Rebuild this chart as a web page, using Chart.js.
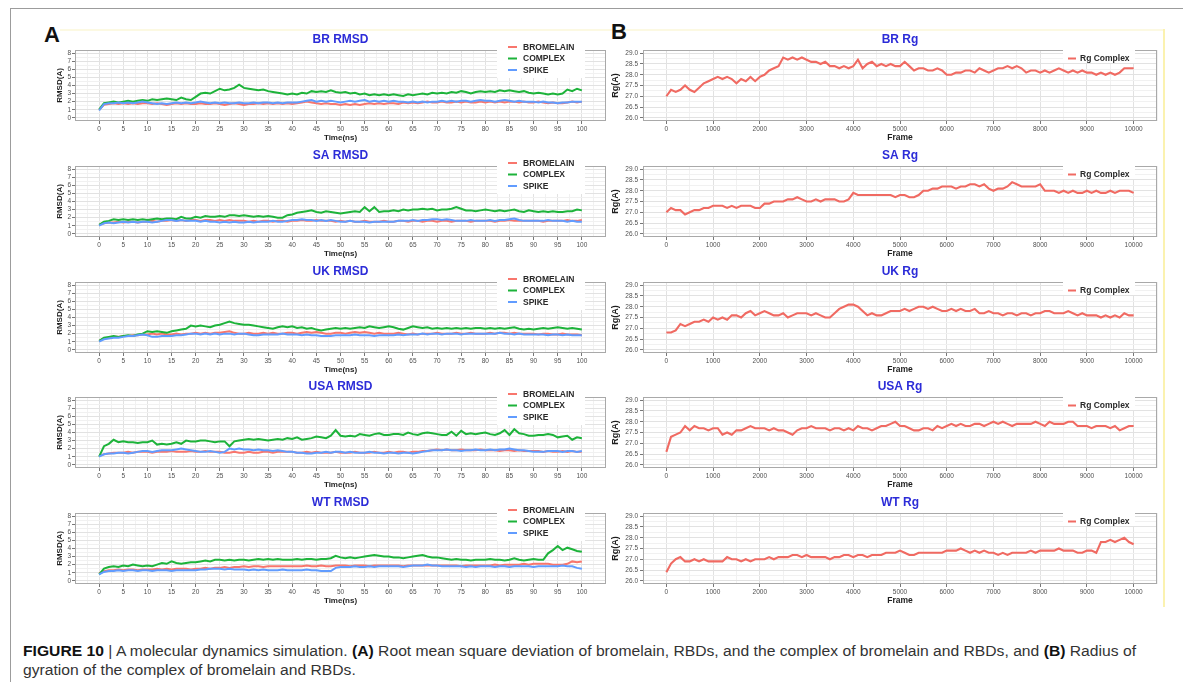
<!DOCTYPE html>
<html><head><meta charset="utf-8">
<script src="https://cdn.jsdelivr.net/npm/chart.js@4.4.1/dist/chart.umd.min.js"></script>
<style>
html,body{margin:0;padding:0;background:#fff;width:1183px;height:682px;overflow:hidden;position:relative;}
canvas.c{position:absolute;}
.ln{position:absolute;}
.lbl{position:absolute;font:bold 22px "Liberation Sans",Arial,sans-serif;color:#111;line-height:22px;}
#cap{position:absolute;left:23px;top:642px;font:14px "Liberation Sans Narrow","Liberation Sans",Arial,sans-serif;color:#333;white-space:nowrap;transform-origin:0 0;line-height:19px;}
#cap b{color:#111;}
</style></head><body>
<div class="ln" style="left:10px;top:8px;width:1173px;height:1px;background:#9c9c9c"></div>
<div class="ln" style="left:10px;top:8px;width:1px;height:674px;background:#9c9c9c"></div>
<div class="ln" style="left:60px;top:29px;width:1103px;height:2px;background:#fcf9e2"></div>
<div class="ln" style="left:1163px;top:29px;width:2px;height:578px;background:#fbf2b0"></div>
<div class="lbl" style="left:44px;top:24px">A</div>
<div class="lbl" style="left:611px;top:21px">B</div>
<div id="cap"><span id="cap1"><b>FIGURE 10</b> | A molecular dynamics simulation. <b>(A)</b> Root mean square deviation of bromelain, RBDs, and the complex of bromelain and RBDs, and <b>(B)</b> Radius of</span><br><span>gyration of the complex of bromelain and RBDs.</span></div>
<script>
// ---------------- DATA ----------------
const variants = ['BR','SA','UK','USA','WT'];
const seriesNames = ['BROMELAIN','COMPLEX','SPIKE'];
const rgName = 'Rg Complex';
const nsTicks = [0,5,10,15,20,25,30,35,40,45,50,55,60,65,70,75,80,85,90,95,100];
const frameTicks = [0,1000,2000,3000,4000,5000,6000,7000,8000,9000,10000];
const rmsdTicks = [0,1,2,3,4,5,6,7,8];
const rgTicks = [26.0,26.5,27.0,27.5,28.0,28.5,29.0];
// sample positions: every 1 ns / every 100 frames
const timeNs = Array.from({length:101},(_,i)=>i);
const frames = Array.from({length:101},(_,i)=>i*100);

const brComplex = [1.0,
1.8,1.9,2.0,1.9,2.0,2.1,2.0,2.1,2.2,2.1,
2.3,2.2,2.3,2.4,2.3,2.2,2.5,2.3,2.2,2.6,
3.0,3.1,3.0,3.3,3.6,3.4,3.5,3.7,4.1,3.7,
3.6,3.5,3.4,3.5,3.3,3.2,3.1,3.0,2.9,3.0,
2.9,3.1,3.0,3.3,3.2,3.3,3.2,3.4,3.2,3.1,
3.2,3.0,3.1,2.9,3.0,2.8,2.9,2.8,2.9,2.8,
2.9,2.8,2.7,2.9,2.8,2.9,3.0,2.9,3.1,3.0,
3.1,3.0,3.2,3.1,3.3,3.2,3.0,3.2,3.3,3.2,
3.3,3.2,3.4,3.3,3.4,3.3,3.2,3.3,3.1,3.0,
3.1,3.0,2.9,3.0,2.9,3.0,3.5,3.3,3.6,3.4];
const brBromelain = [1.0,
1.6,1.7,1.8,1.7,1.8,1.7,1.8,1.7,1.8,1.8,
1.7,1.8,1.7,1.6,1.7,1.8,1.7,1.8,1.7,1.7,
1.8,1.7,1.7,1.8,1.7,1.6,1.7,1.8,1.7,1.6,
1.7,1.7,1.8,1.7,1.8,1.7,1.8,1.7,1.8,1.7,
1.8,1.9,2.0,1.9,1.8,1.7,1.8,1.7,1.7,1.6,
1.7,1.6,1.7,1.6,1.7,1.8,1.7,1.8,1.7,1.8,
1.8,1.7,1.9,1.8,1.9,1.8,1.9,2.0,1.9,1.9,
2.0,1.9,1.9,2.0,1.9,2.0,1.9,1.9,2.0,1.9,
2.0,1.9,2.0,1.9,2.0,2.0,1.9,2.0,1.9,1.9,
2.0,1.9,1.8,1.9,1.8,1.8,1.9,2.0,1.9,2.0];
const brSpike = [0.9,
1.7,1.8,1.8,1.9,1.8,1.9,1.8,1.9,2.0,1.9,
1.8,1.7,1.8,1.7,1.8,1.9,1.8,1.9,1.8,1.9,
2.0,1.9,1.8,1.9,1.8,1.9,1.8,1.8,1.9,1.8,
1.8,1.9,1.8,1.9,1.9,1.8,1.9,1.8,1.9,1.9,
1.9,2.0,2.1,2.2,2.0,2.1,2.0,2.1,2.0,1.9,
2.0,2.1,2.0,2.1,2.2,2.0,2.1,2.0,2.1,2.0,
2.1,2.0,2.0,1.9,2.0,1.9,2.0,1.9,2.0,2.0,
2.1,2.0,2.1,2.0,2.1,2.1,2.0,2.1,2.2,2.1,
2.1,2.0,2.1,2.2,2.1,2.0,2.1,2.0,2.0,2.0,
1.9,2.0,1.9,1.9,1.8,1.9,1.9,2.0,2.0,2.0];

const saComplex = [1.1,
1.5,1.6,1.8,1.7,1.8,1.7,1.8,1.7,1.8,1.7,
1.8,1.9,1.8,1.9,1.9,1.8,2.1,1.9,1.9,2.1,
2.0,2.2,2.1,2.1,2.2,2.1,2.3,2.3,2.2,2.3,
2.2,2.1,2.2,2.1,2.2,2.1,2.0,2.0,2.3,2.4,
2.6,2.7,2.8,2.9,2.7,2.6,2.8,2.7,2.6,2.5,
2.6,2.7,2.8,2.7,3.3,2.8,3.3,2.7,2.8,2.8,
2.9,2.8,3.0,2.9,3.0,3.0,3.1,3.0,3.1,2.9,
3.0,3.0,3.1,3.3,3.1,2.9,2.9,2.8,2.9,3.0,
2.9,2.8,2.9,2.8,2.9,3.0,2.8,2.7,2.9,2.8,
2.7,2.8,2.7,2.8,2.7,2.7,2.8,2.8,3.0,2.9];
const saBromelain = [1.1,
1.3,1.4,1.4,1.5,1.4,1.5,1.5,1.4,1.5,1.5,
1.6,1.5,1.6,1.6,1.7,1.6,1.7,1.6,1.7,1.7,
1.6,1.7,1.7,1.6,1.7,1.6,1.7,1.6,1.6,1.6,
1.5,1.6,1.5,1.6,1.6,1.5,1.6,1.6,1.5,1.6,
1.6,1.7,1.6,1.6,1.7,1.6,1.6,1.6,1.5,1.6,
1.5,1.6,1.5,1.5,1.6,1.5,1.5,1.5,1.6,1.5,
1.5,1.6,1.6,1.5,1.6,1.6,1.5,1.6,1.6,1.5,
1.6,1.6,1.5,1.6,1.6,1.6,1.5,1.6,1.6,1.6,
1.6,1.5,1.6,1.6,1.7,1.6,1.6,1.6,1.6,1.6,
1.6,1.5,1.6,1.6,1.6,1.6,1.7,1.6,1.6,1.7];
const saSpike = [1.0,
1.3,1.4,1.3,1.4,1.5,1.4,1.5,1.4,1.5,1.5,
1.4,1.5,1.6,1.7,1.7,1.6,1.7,1.6,1.6,1.6,
1.5,1.6,1.5,1.5,1.4,1.5,1.4,1.5,1.4,1.4,
1.5,1.4,1.5,1.5,1.5,1.6,1.5,1.5,1.6,1.7,
1.7,1.8,1.7,1.7,1.6,1.7,1.6,1.7,1.6,1.5,
1.5,1.6,1.5,1.5,1.5,1.4,1.5,1.5,1.5,1.5,
1.5,1.6,1.6,1.6,1.7,1.6,1.7,1.7,1.8,1.8,
1.7,1.8,1.7,1.6,1.6,1.6,1.7,1.6,1.6,1.6,
1.7,1.6,1.7,1.7,1.8,1.9,1.7,1.6,1.6,1.6,
1.6,1.6,1.7,1.6,1.6,1.6,1.5,1.6,1.5,1.5];

const ukComplex = [1.1,
1.5,1.6,1.7,1.6,1.7,1.8,1.7,1.9,2.0,2.3,
2.2,2.3,2.2,2.1,2.3,2.4,2.5,2.6,3.0,2.9,
3.0,2.9,2.8,3.0,3.1,3.3,3.5,3.3,3.2,3.1,
3.1,3.0,2.9,2.8,2.7,2.6,2.8,2.9,2.8,2.9,
2.7,2.8,2.6,2.7,2.5,2.4,2.5,2.6,2.7,2.6,
2.7,2.6,2.7,2.8,2.7,2.9,2.8,2.7,2.8,2.9,
2.8,2.6,2.5,2.7,2.9,2.8,2.7,2.8,2.6,2.7,
2.6,2.7,2.6,2.7,2.6,2.7,2.6,2.7,2.7,2.6,
2.7,2.6,2.7,2.6,2.7,2.8,2.6,2.5,2.6,2.5,
2.6,2.7,2.6,2.7,2.8,2.7,2.6,2.7,2.6,2.5];
const ukBromelain = [1.1,
1.4,1.5,1.6,1.6,1.7,1.7,1.8,1.8,1.9,1.9,
2.0,1.9,2.0,1.9,1.9,2.0,1.9,2.0,2.0,2.1,
2.0,2.1,2.0,2.1,2.1,2.2,2.3,2.1,2.0,2.0,
2.1,2.0,2.0,2.1,2.0,2.1,2.0,2.0,2.1,2.1,
2.0,2.1,2.2,2.1,2.2,2.1,2.0,2.0,2.1,2.1,
2.0,2.1,2.2,2.1,2.2,2.1,2.0,2.1,2.0,2.0,
2.0,2.1,2.0,1.9,2.0,1.9,2.0,2.0,2.0,2.1,
2.0,2.0,2.0,2.1,2.0,2.0,2.1,2.0,2.0,2.0,
2.1,2.0,2.1,2.1,2.0,2.1,2.0,2.0,2.0,2.0,
1.9,2.0,2.0,1.9,1.9,2.0,1.9,1.9,1.9,1.8];
const ukSpike = [1.0,
1.3,1.4,1.5,1.5,1.6,1.7,1.7,1.8,1.9,1.8,
1.6,1.6,1.7,1.7,1.7,1.8,1.8,1.9,2.0,2.0,
1.9,2.0,1.9,2.0,1.9,2.0,2.0,1.9,2.0,2.0,
1.9,1.8,1.8,1.9,1.9,1.9,1.9,2.0,1.9,1.9,
1.9,1.8,1.9,1.8,1.8,1.7,1.7,1.7,1.8,1.8,
1.8,1.8,1.9,1.8,1.8,1.8,1.7,1.8,1.8,1.8,
1.8,1.9,1.8,1.9,1.9,1.9,2.0,1.9,2.0,2.0,
1.9,2.0,2.0,2.0,1.9,2.0,2.0,2.0,2.0,2.0,
2.0,2.0,2.1,2.0,2.0,1.9,2.0,1.9,1.9,1.9,
1.9,1.9,1.8,1.9,1.9,1.8,1.9,1.8,1.8,1.8];

const usaComplex = [1.0,
2.3,2.6,3.1,2.8,2.9,2.8,2.8,2.7,2.8,2.8,
3.0,2.5,2.6,2.5,2.6,2.8,2.6,3.0,2.9,2.9,
3.0,3.0,2.9,2.8,2.9,2.9,2.3,2.9,3.0,3.1,
3.2,3.1,3.2,3.1,3.0,3.1,3.2,3.1,3.3,3.2,
3.4,3.1,3.2,3.3,3.5,3.4,3.3,3.6,4.3,3.6,
3.5,3.6,3.5,3.8,3.7,3.6,3.8,3.9,3.7,3.7,
3.8,3.8,3.7,4.0,3.8,3.7,3.9,4.0,3.9,3.8,
3.7,3.7,4.1,3.6,4.2,3.8,3.9,3.8,3.9,4.0,
3.8,3.7,3.9,4.3,3.7,4.4,3.9,3.8,3.6,3.6,
3.7,3.7,3.8,3.7,3.4,3.5,3.6,3.1,3.4,3.3];
const usaBromelain = [1.1,
1.3,1.4,1.5,1.5,1.5,1.6,1.5,1.6,1.6,1.6,
1.5,1.6,1.6,1.6,1.7,1.6,1.6,1.6,1.7,1.6,
1.6,1.7,1.6,1.6,1.6,1.5,1.5,1.6,1.5,1.5,
1.6,1.5,1.5,1.6,1.6,1.5,1.6,1.6,1.6,1.6,
1.5,1.5,1.6,1.5,1.6,1.5,1.5,1.5,1.6,1.5,
1.5,1.5,1.6,1.5,1.5,1.5,1.6,1.5,1.5,1.6,
1.5,1.6,1.6,1.5,1.6,1.6,1.7,1.7,1.8,1.9,
1.8,1.9,1.8,1.8,1.9,1.8,1.8,1.8,1.9,1.8,
1.8,1.8,1.7,1.8,1.8,1.7,1.8,1.7,1.7,1.7,
1.7,1.6,1.7,1.6,1.6,1.7,1.6,1.7,1.6,1.6];
const usaSpike = [1.0,
1.3,1.4,1.4,1.5,1.5,1.4,1.5,1.6,1.7,1.7,
1.6,1.7,1.8,1.8,1.8,1.9,2.0,1.9,1.8,1.7,
1.6,1.6,1.7,1.6,1.5,1.6,2.0,1.9,2.0,1.9,
1.9,1.8,1.9,1.8,1.8,1.7,1.8,1.7,1.6,1.6,
1.5,1.5,1.4,1.4,1.5,1.5,1.6,1.5,1.6,1.6,
1.5,1.6,1.5,1.5,1.5,1.6,1.5,1.5,1.4,1.5,
1.5,1.4,1.5,1.5,1.4,1.5,1.6,1.7,1.8,1.8,
1.8,1.9,1.8,1.8,1.7,1.8,1.8,1.9,1.8,1.8,
1.9,1.8,1.9,1.9,2.0,1.9,1.8,1.8,1.7,1.6,
1.6,1.6,1.7,1.7,1.7,1.6,1.7,1.7,1.6,1.7];

const wtComplex = [0.8,
1.5,1.7,1.8,1.7,1.9,1.8,2.0,1.9,1.8,1.9,
1.8,2.0,2.2,2.1,2.4,2.2,2.1,2.2,2.3,2.3,
2.4,2.5,2.4,2.6,2.6,2.5,2.6,2.5,2.6,2.6,
2.5,2.6,2.7,2.6,2.7,2.6,2.7,2.6,2.6,2.6,
2.7,2.6,2.7,2.7,2.6,2.7,2.7,2.8,3.1,2.9,
2.8,2.9,2.8,2.9,3.0,3.1,3.2,3.1,3.0,3.0,
2.9,2.9,2.8,2.9,3.0,3.1,3.2,3.0,2.9,2.9,
2.8,2.7,2.6,2.7,2.6,2.6,2.5,2.6,2.6,2.6,
2.7,2.6,2.6,2.5,2.6,2.8,2.6,2.5,2.6,2.7,
2.6,2.6,3.4,3.8,4.3,3.8,4.1,3.9,3.7,3.6];
const wtBromelain = [0.9,
1.2,1.3,1.3,1.4,1.3,1.4,1.4,1.3,1.4,1.4,
1.4,1.5,1.4,1.5,1.4,1.5,1.5,1.5,1.4,1.5,
1.5,1.6,1.5,1.6,1.6,1.7,1.6,1.7,1.7,1.8,
1.7,1.8,1.8,1.7,1.8,1.8,1.8,1.8,1.8,1.8,
1.8,1.8,1.9,1.8,1.8,1.9,1.8,1.8,1.9,1.9,
1.9,1.8,1.9,1.9,1.9,1.8,1.9,1.9,1.9,1.9,
1.9,1.9,1.8,1.9,1.9,1.9,1.9,1.9,1.9,1.9,
1.9,1.9,1.9,1.9,1.8,1.9,1.9,1.9,1.9,1.9,
1.9,2.0,1.9,2.0,2.0,2.0,2.0,2.1,2.0,2.1,
2.1,2.1,2.1,2.0,2.0,2.0,2.1,2.4,2.3,2.4];
const wtSpike = [0.8,
1.1,1.2,1.2,1.3,1.2,1.3,1.3,1.2,1.3,1.3,
1.2,1.3,1.3,1.3,1.2,1.3,1.3,1.3,1.3,1.3,
1.4,1.4,1.5,1.5,1.5,1.4,1.5,1.4,1.4,1.4,
1.3,1.4,1.3,1.4,1.3,1.3,1.3,1.4,1.3,1.3,
1.3,1.3,1.4,1.3,1.3,1.2,1.2,1.2,1.6,1.7,
1.7,1.7,1.8,1.7,1.7,1.8,1.7,1.8,1.8,1.8,
1.8,1.8,1.7,1.8,1.9,1.9,1.9,2.0,1.9,1.9,
1.8,1.8,1.8,1.8,1.8,1.7,1.8,1.7,1.8,1.8,
1.8,1.7,1.8,1.8,1.7,1.8,1.8,1.8,1.8,1.7,
1.8,1.8,1.8,1.8,1.8,1.9,1.8,1.8,1.6,1.5];

const brRg = [27.0,
27.3,27.2,27.3,27.5,27.3,27.2,27.4,27.6,27.7,27.8,
27.9,27.8,27.9,27.8,27.6,27.8,27.7,27.9,27.7,27.9,
28.0,28.2,28.3,28.4,28.8,28.7,28.8,28.7,28.8,28.7,
28.6,28.6,28.5,28.6,28.4,28.4,28.3,28.4,28.3,28.4,
28.7,28.3,28.5,28.6,28.4,28.5,28.4,28.5,28.4,28.4,
28.6,28.4,28.2,28.3,28.3,28.2,28.2,28.3,28.2,28.0,
28.0,28.1,28.1,28.2,28.2,28.1,28.3,28.2,28.1,28.2,
28.3,28.3,28.4,28.3,28.4,28.3,28.1,28.2,28.2,28.1,
28.2,28.1,28.2,28.3,28.2,28.1,28.2,28.1,28.2,28.1,
28.1,28.0,28.1,28.0,28.1,28.0,28.1,28.3,28.3,28.3];
const saRg = [27.0,
27.2,27.1,27.1,26.9,27.0,27.1,27.1,27.2,27.2,27.3,
27.3,27.3,27.2,27.3,27.2,27.3,27.3,27.3,27.2,27.2,
27.4,27.4,27.5,27.5,27.5,27.6,27.6,27.7,27.6,27.5,
27.5,27.6,27.5,27.6,27.6,27.6,27.5,27.5,27.6,27.9,
27.8,27.8,27.8,27.8,27.8,27.8,27.8,27.8,27.7,27.8,
27.8,27.7,27.7,27.8,28.0,28.0,28.1,28.1,28.2,28.2,
28.2,28.1,28.2,28.2,28.3,28.3,28.2,28.3,28.1,28.0,
28.1,28.1,28.2,28.4,28.3,28.2,28.2,28.2,28.2,28.3,
28.0,28.0,28.0,27.9,28.0,27.9,28.0,27.9,27.9,28.0,
27.9,28.0,27.9,27.9,28.0,27.9,28.0,28.0,28.0,27.9];
const ukRg = [26.8,
26.8,26.9,27.2,27.1,27.2,27.3,27.3,27.4,27.3,27.5,
27.4,27.5,27.4,27.6,27.6,27.5,27.7,27.8,27.6,27.7,
27.8,27.7,27.6,27.6,27.7,27.5,27.6,27.7,27.7,27.7,
27.6,27.7,27.6,27.5,27.5,27.7,27.9,28.0,28.1,28.1,
28.0,27.8,27.6,27.7,27.6,27.6,27.7,27.8,27.8,27.8,
27.9,27.8,27.9,28.0,28.0,27.9,28.0,27.9,27.8,27.8,
27.9,27.8,27.9,27.8,27.8,27.9,27.7,27.7,27.8,27.7,
27.7,27.6,27.7,27.7,27.6,27.7,27.7,27.6,27.7,27.7,
27.8,27.8,27.7,27.7,27.7,27.8,27.7,27.6,27.7,27.6,
27.6,27.6,27.5,27.6,27.5,27.6,27.5,27.7,27.6,27.6];
const usaRg = [26.6,
27.3,27.4,27.5,27.8,27.6,27.8,27.7,27.7,27.6,27.7,
27.7,27.4,27.5,27.4,27.6,27.6,27.7,27.8,27.7,27.7,
27.7,27.6,27.7,27.6,27.6,27.5,27.4,27.6,27.7,27.7,
27.8,27.7,27.7,27.7,27.6,27.7,27.7,27.6,27.7,27.6,
27.8,27.7,27.7,27.6,27.7,27.8,27.8,27.9,28.0,27.8,
27.8,27.7,27.6,27.6,27.7,27.7,27.6,27.8,27.7,27.8,
27.9,27.8,27.9,27.8,27.8,27.9,27.9,27.8,27.9,28.0,
27.9,28.0,27.9,27.8,27.9,27.9,27.9,27.9,28.0,27.9,
27.8,28.0,27.9,27.9,27.9,28.0,28.0,27.8,27.8,27.8,
27.7,27.8,27.8,27.8,27.7,27.8,27.6,27.7,27.8,27.8];
const wtRg = [26.4,
26.8,27.0,27.1,26.9,26.9,27.0,26.9,27.0,26.9,26.9,
26.9,26.9,27.1,27.0,27.0,26.9,27.0,26.9,27.0,27.0,
27.0,27.1,27.0,27.1,27.1,27.1,27.2,27.2,27.1,27.2,
27.1,27.1,27.1,27.1,27.0,27.1,27.1,27.2,27.2,27.1,
27.2,27.2,27.1,27.2,27.2,27.2,27.3,27.3,27.3,27.4,
27.3,27.2,27.2,27.3,27.3,27.3,27.3,27.3,27.3,27.4,
27.4,27.4,27.5,27.4,27.3,27.4,27.3,27.4,27.3,27.3,
27.2,27.3,27.2,27.3,27.3,27.3,27.3,27.4,27.3,27.4,
27.4,27.4,27.4,27.5,27.4,27.4,27.4,27.3,27.3,27.4,
27.4,27.3,27.8,27.8,27.9,27.8,27.9,28.0,27.8,27.7];

const rmsdData = {
  BR:[brBromelain,brComplex,brSpike], SA:[saBromelain,saComplex,saSpike],
  UK:[ukBromelain,ukComplex,ukSpike], USA:[usaBromelain,usaComplex,usaSpike],
  WT:[wtBromelain,wtComplex,wtSpike]};
const rgData = {BR:brRg, SA:saRg, UK:ukRg, USA:usaRg, WT:wtRg};

// ---------------- STYLE ----------------
const FONT = '"Liberation Sans", Arial, sans-serif';
const seriesColors = ['#F8766D','#1DB33A','#619CFF'];
const rgColor = '#F06A62';
const PANEL_TOP0 = 30, PANEL_STEP = 115.8;

function withMinor(major, lo, hi){
  const out = [];
  const step = major[1]-major[0];
  if (major[0]-step/2 >= lo) out.push({value: major[0]-step/2, minor:true});
  major.forEach((v,i)=>{
    out.push({value:v, minor:false});
    const m = i<major.length-1 ? (v+major[i+1])/2 : v+step/2;
    if (m <= hi) out.push({value:m, minor:true});
  });
  return out;
}

const decor = {
  id:'decor',
  afterDraw(chart, args, o){
    const a = chart.chartArea, c = chart.ctx;
    c.save();
    c.strokeStyle = '#a9a9a9'; c.lineWidth = 1;
    c.strokeRect(Math.round(a.left)+0.5, Math.round(a.top)+0.5, Math.round(a.right-a.left)-1, Math.round(a.bottom-a.top)-1);
    c.fillStyle = '#2c2cd8'; c.font = 'bold 12px ' + FONT;
    c.textAlign = 'center'; c.textBaseline = 'middle';
    c.fillText(o.title, (a.left+a.right)/2, a.top-10);
    const L = o.legend;
    c.fillStyle = '#ffffff';
    c.fillRect(a.right-L.boxL, a.top-L.boxT, L.boxL-L.boxR, L.boxH);
    const items = chart.data.datasets.slice().sort((p,q)=>p.legendIndex-q.legendIndex);
    items.forEach((ds,i)=>{
      const y = a.top + L.y0 + i*L.dy;
      c.strokeStyle = ds.borderColor; c.lineWidth = 2;
      c.beginPath(); c.moveTo(a.right-L.lineL, y); c.lineTo(a.right-L.lineL+L.lineW, y); c.stroke();
      c.fillStyle = '#2a2a2a'; c.font = L.font; c.textAlign = 'left'; c.textBaseline = 'middle';
      c.fillText(ds.label, a.right-L.textL, y+0.5);
    });
    c.restore();
  }
};

function axis(kind, cfg){
  const common = {
    type:'linear', min:cfg.min, max:cfg.max,
    afterBuildTicks: s => { s.ticks = withMinor(cfg.major, cfg.min, cfg.max); },
    ticks:{autoSkip:false, maxRotation:0, minRotation:0, padding:cfg.pad, color:'#505050',
      font:{size:6.5, family:FONT},
      callback:(v,i,t)=> t[i].minor ? '' : cfg.fmt(v)},
    grid:{color: c => (c.tick && c.tick.minor) ? '#f1f1f1' : '#e2e2e2', lineWidth:1, tickLength:3,
      tickColor: c => (c.tick && c.tick.minor) ? 'rgba(0,0,0,0)' : '#777'},
    border:{display:false},
    title:{display:true, text:cfg.title, color:'#1e1e1e', font:{size:cfg.tsize, weight:'bold', family:FONT},
      padding: kind==='x' ? {top:0,bottom:1} : {top:3,bottom:0}}
  };
  if (kind==='x') common.afterFit = s => { s.height = 23; };
  else common.afterFit = s => { s.width = cfg.w; };
  return common;
}

function makeCanvas(left, top, w, h){
  const cv = document.createElement('canvas');
  cv.className = 'c'; cv.width = w; cv.height = h;
  cv.style.left = left+'px'; cv.style.top = top+'px';
  cv.style.width = w+'px'; cv.style.height = h+'px';
  document.body.appendChild(cv);
  return cv;
}

variants.forEach((v,k)=>{
  const top = Math.round(PANEL_TOP0 + k*PANEL_STEP);
  // ---- RMSD panel (A) ----
  const cvA = makeCanvas(52, top, 563, 114);
  const ds = [2,1,0].map(j=>({
    label: seriesNames[j], legendIndex:j,
    data: rmsdData[v][j].map((y,i)=>({x:timeNs[i], y})),
    borderColor: seriesColors[j], borderWidth:2, pointRadius:0, tension:0, fill:false
  }));
  new Chart(cvA, {
    type:'line', data:{datasets:ds},
    options:{responsive:false, animation:false, devicePixelRatio:1, parsing:true,
      layout:{padding:{top:20, right:9, left:0, bottom:0}},
      plugins:{legend:{display:false}, tooltip:{enabled:false},
        decor:{title: v+' RMSD', legend:{boxL:109, boxR:21, boxT:9, boxH:37, y0:-3, dy:11.5,
          lineL:98, lineW:9, textL:83, font:'bold 8.5px '+FONT}}},
      scales:{
        x: axis('x',{min:-5, max:105, major:nsTicks, fmt:x=>String(x), title:'Time(ns)', tsize:8, pad:1}),
        y: axis('y',{min:-0.4, max:8.4, major:rmsdTicks, fmt:y=>String(y), title:'RMSD(A)', tsize:8, pad:1, w:23})
      }},
    plugins:[decor]
  });
  // ---- Rg panel (B) ----
  const cvB = makeCanvas(607, top, 559, 114);
  new Chart(cvB, {
    type:'line',
    data:{datasets:[{label: rgName, legendIndex:0,
      data: rgData[v].map((y,i)=>({x:frames[i], y})),
      borderColor: rgColor, borderWidth:2.1, pointRadius:0, tension:0, fill:false}]},
    options:{responsive:false, animation:false, devicePixelRatio:1,
      layout:{padding:{top:20, right:9, left:0, bottom:0}},
      plugins:{legend:{display:false}, tooltip:{enabled:false},
        decor:{title: v+' Rg', legend:{boxL:94, boxR:22, boxT:5, boxH:18, y0:8.5, dy:11,
          lineL:89, lineW:8, textL:77, font:'bold 8.5px '+FONT}}},
      scales:{
        x: axis('x',{min:-500, max:10500, major:frameTicks, fmt:x=>String(x), title:'Frame', tsize:8.5, pad:1}),
        y: axis('y',{min:25.85, max:29.15, major:rgTicks, fmt:y=>y.toFixed(1), title:'Rg(A)', tsize:9, pad:2, w:36})
      }},
    plugins:[decor]
  });
});

// caption width fit
const cap = document.getElementById('cap');
const w1 = document.getElementById('cap1').getBoundingClientRect().width;
cap.style.transform = 'scaleX(' + (1113/w1) + ')';
</script>
</body></html>
